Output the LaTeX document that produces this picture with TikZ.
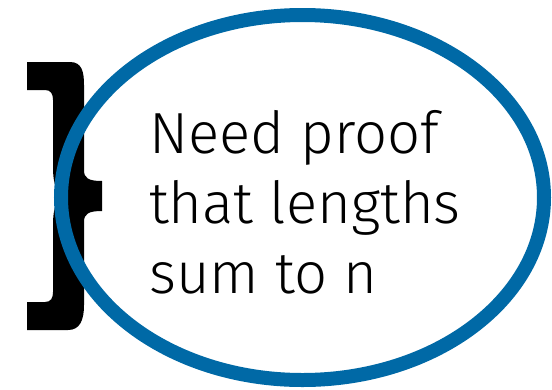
\documentclass[tikz,border=0pt]{standalone}
\usepackage{fontspec}
\setmainfont{Fira Sans}[UprightFont=* Light]
\usepackage{tikz}
\usetikzlibrary{shapes.geometric}
\definecolor{bubbleblue}{RGB}{0,105,166}

\begin{document}
\begin{tikzpicture}[x=1pt,y=-1pt,
bubble/.style={draw=bubbleblue,ellipse,line width=14pt,inner sep=0pt,minimum width=483pt,minimum height=365pt},
note/.style={align=left,font=\fontsize{58}{70}\selectfont,inner sep=0pt}]
\useasboundingbox (0,0) rectangle (552,389);
% brace on the left
\fill (27,62) -- (70,62) .. controls (82,62) and (84,72) .. (84,85) -- (84,170)
  .. controls (84,178) and (88,181) .. (102,181) -- (102,211)
  .. controls (88,211) and (84,214) .. (84,222) -- (84,305)
  .. controls (84,320) and (80,330) .. (68,330) -- (27,330) -- (27,302) -- (45,302)
  .. controls (51,302) and (53,298) .. (53,292) -- (53,225)
  .. controls (53,205) and (58,198) .. (64,196)
  .. controls (58,194) and (53,187) .. (53,167) -- (53,100)
  .. controls (53,94) and (51,90) .. (45,90) -- (27,90) -- cycle;
\node[bubble] (b) at (302.5,197.5) {};
\node[note,anchor=base west] (t) at (149,293) {Need proof\\that lengths\\sum to n};
\end{tikzpicture}
\end{document}
